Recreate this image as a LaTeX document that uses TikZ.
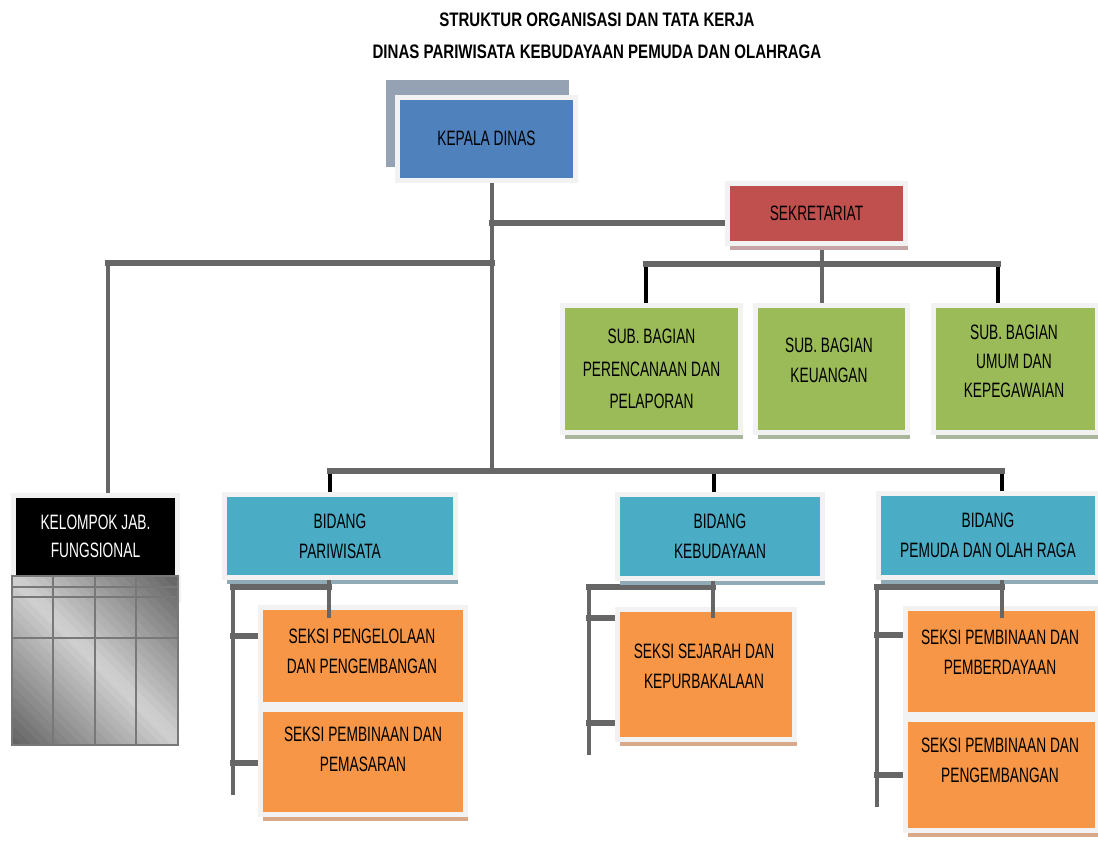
\documentclass[tikz,border=0pt]{standalone}
\usepackage{fontspec}
\setmainfont{Liberation Sans}[FakeStretch=0.66]
\newfontfamily\titlefont{Liberation Sans}[FakeStretch=0.77]
\usetikzlibrary{shadows}

\definecolor{kepalablue}{HTML}{4F81BD}
\definecolor{kepalaback}{HTML}{95A2B4}
\definecolor{framegray}{HTML}{F2F2F2}
\definecolor{sekred}{HTML}{C0504D}
\definecolor{sekshadow}{HTML}{C6A3A4}
\definecolor{subgreen}{HTML}{9BBB59}
\definecolor{greenshadow}{HTML}{AAB69C}
\definecolor{bidangblue}{HTML}{4BACC6}
\definecolor{bidangshadow}{HTML}{90AAB6}
\definecolor{seksiorange}{HTML}{F79646}
\definecolor{orangeshadow}{HTML}{D8A98A}
\definecolor{linegray}{HTML}{666666}

\pgfdeclarelayer{background}
\pgfsetlayers{background,main}

\begin{document}
\begin{tikzpicture}[
    x = 0.025cm,
    y = -0.025cm,
    font = \fontsize{14.8}{21.3}\selectfont,
    box/.style = {
      draw = framegray,
      line width = 0.125cm,
      inner sep = 0pt,
      align = center
    },
    boxsize/.style 2 args = {
      minimum width = #1*0.025cm,
      minimum height = #2*0.025cm
    },
    shadowed/.style = {
      drop shadow = {shadow xshift = 0.06cm, shadow yshift = -0.15cm,
                     fill = #1, opacity = 1}
    },
    txt/.style = {align = center, inner sep = 0pt},
    link/.style = {draw = linegray, line width = 0.15cm, line cap = rect},
    riser/.style = {draw = linegray, line width = 0.1cm, line cap = rect},
    stem/.style = {draw = black, line width = 0.1cm},
    cell/.style = {draw = black!53, line width = 0.07cm}
  ]
  \useasboundingbox (0,0) rectangle (1098,843);

  % title
  \node[font = \titlefont\bfseries\fontsize{13.9}{16}\selectfont] (title1)
    at (597,20) {STRUKTUR ORGANISASI DAN TATA KERJA};
  \node[font = \titlefont\bfseries\fontsize{13.9}{16}\selectfont] (title2)
    at (597,52) {DINAS PARIWISATA KEBUDAYAAN PEMUDA DAN OLAHRAGA};

  % head and secretariat
  \node[fill = kepalaback, inner sep = 0pt, boxsize = {183}{87}] (kepalastack)
    at (477.5,123.5) {};
  \node[box, fill = kepalablue, boxsize = {178}{83}] (kepala)
    at (486.5,138.5) {KEPALA DINAS};
  \node[box, fill = sekred, boxsize = {178}{60}, shadowed = sekshadow] (sek)
    at (816.5,213.5) {SEKRETARIAT};

  % sub bagian
  \node[box, fill = subgreen, boxsize = {178}{127}, shadowed = greenshadow,
        font = \fontsize{14.8}{23.1}\selectfont] (perencanaan)
    at (651.5,369) {SUB. BAGIAN\\PERENCANAAN DAN\\PELAPORAN};
  \node[box, fill = subgreen, boxsize = {152}{127}, shadowed = greenshadow]
    (keuangan) at (831.5,369) {};
  \node[txt] (keuangantext) at (829,360.5) {SUB. BAGIAN\\KEUANGAN};
  \node[box, fill = subgreen, boxsize = {164}{127}, shadowed = greenshadow]
    (umum) at (1015.5,369) {};
  \node[txt, font = \fontsize{14.8}{20.6}\selectfont] (umumtext)
    at (1014,361) {SUB. BAGIAN\\UMUM DAN\\KEPEGAWAIAN};

  % kelompok jabatan fungsional
  \node[box, fill = black, text = white, boxsize = {164}{82},
        font = \fontsize{14.8}{19.9}\selectfont] (kelompok)
    at (95.5,536.5) {KELOMPOK JAB.\\FUNGSIONAL};
  \fill[framegray] (176,576) rectangle (181,603);
  \begin{scope}
    \clip (12,576) rectangle (178,745);
    % metal look: light along one diagonal, darker towards two corners
    \foreach \i in {0,...,34} {
      \pgfmathsetmacro\ya{733-10*\i}
      \pgfmathsetmacro\yb{\ya-11}
      \pgfmathsetmacro\tone{18+44*abs((\ya-5-565)/168)}
      \fill[black!\tone] (0,\ya) -- (300,300+\ya) -- (300,300+\yb) -- (0,\yb) -- cycle;
    }
  \end{scope}
  \foreach \cx in {53,95,136}
    \draw[cell] (\cx,576) -- (\cx,745);
  \foreach \cy in {587,597,638}
    \draw[cell] (12,\cy) -- (178,\cy);
  \draw[cell] (12,576) rectangle (178,745);

  % bidang
  \node[box, fill = bidangblue, boxsize = {231}{83}, shadowed = bidangshadow]
    (pariwisata) at (340,536) {BIDANG\\PARIWISATA};
  \node[box, fill = bidangblue, boxsize = {205}{84}, shadowed = bidangshadow]
    (kebudayaan) at (720,536.5) {BIDANG\\KEBUDAYAAN};
  \node[box, fill = bidangblue, boxsize = {219}{84}, shadowed = bidangshadow]
    (pemuda) at (988,535.5) {BIDANG\\PEMUDA DAN OLAH RAGA};

  % seksi
  \node[box, fill = seksiorange, boxsize = {205}{97}, shadowed = orangeshadow]
    (pengelolaan) at (363,656) {};
  \node[txt] (pengelolaantext) at (362,651) {SEKSI PENGELOLAAN\\DAN PENGEMBANGAN};
  \node[box, fill = seksiorange, boxsize = {205}{105}, shadowed = orangeshadow]
    (pemasaran) at (363,762) {};
  \node[txt] (pemasarantext) at (363,749) {SEKSI PEMBINAAN DAN\\PEMASARAN};
  \node[box, fill = seksiorange, boxsize = {177}{130}, shadowed = orangeshadow]
    (sejarah) at (706,674.5) {};
  \node[txt] (sejarahtext) at (704,666) {SEKSI SEJARAH DAN\\KEPURBAKALAAN};
  \node[box, fill = seksiorange, boxsize = {192}{106}, shadowed = orangeshadow]
    (pemberdayaan) at (1001.5,661.5) {};
  \node[txt] (pemberdayaantext) at (1000,652) {SEKSI PEMBINAAN DAN\\PEMBERDAYAAN};
  \node[box, fill = seksiorange, boxsize = {192}{111}, shadowed = orangeshadow]
    (pengembangan) at (1001.5,775) {};
  \node[txt] (pengembangantext) at (1000,760) {SEKSI PEMBINAAN DAN\\PENGEMBANGAN};

  % junctions
  \coordinate (trunk) at (492,471);
  \coordinate (sekjoin) at (492,223);
  \coordinate (kelbend) at (108,263);
  \coordinate (subbus) at (822,264);
  \coordinate (subleft) at (646,264);
  \coordinate (subright) at (998,264);
  \coordinate (busleft) at (330,471);
  \coordinate (busmid) at (714,471);
  \coordinate (busright) at (1002,471);
  \coordinate (parcorner) at (233,587);
  \coordinate (parstem) at (329,618);
  \coordinate (parend) at (233,793);
  \coordinate (partickone) at (233,636);
  \coordinate (paricktwo) at (233,763);
  \coordinate (kebcorner) at (589,587);
  \coordinate (kebstem) at (713,618);
  \coordinate (kebend) at (589,753);
  \coordinate (kebtickone) at (589,618);
  \coordinate (kebticktwo) at (589,723);
  \coordinate (pemcorner) at (877,587);
  \coordinate (pemstem) at (1002,618);
  \coordinate (pemend) at (877,805);
  \coordinate (pemtickone) at (877,635);
  \coordinate (pemticktwo) at (877,775);

  \begin{pgfonlayer}{background}
    \fill[white] (0,0) rectangle (1098,843);
    \draw[stem] (subleft) -- (subleft |- perencanaan.north);
    \draw[stem] (subright) -- (subright |- umum.north);
    \draw[stem] (busleft) -- (busleft |- pariwisata.north);
    \draw[stem] (busmid) -- (busmid |- kebudayaan.north);
    \draw[stem] (busright) -- (busright |- pemuda.north);
    \draw[riser] (kepala.south -| trunk) -- (trunk);
    \draw[link] (sekjoin) -- (sekjoin -| sek.west);
    \draw[link] (kelbend -| trunk) -- (kelbend);
    \draw[riser] (kelbend) -- (kelbend |- kelompok.north);
    \draw[riser] (sek.south -| subbus) -- (subbus);
    \draw[riser] (subbus) -- (subbus |- keuangan.north);
    \draw[link] (subleft) -- (subright);
    \draw[link] (busleft) -- (busright);
    % brackets below bidang
    \draw[riser] (parcorner) -- (parend);
    \draw[link] (parcorner) -- (parcorner -| parstem);
    \draw[link] (partickone) -- (partickone -| pengelolaan.west);
    \draw[link] (paricktwo) -- (paricktwo -| pemasaran.west);
    \draw[riser] (kebcorner) -- (kebend);
    \draw[link] (kebcorner) -- (kebcorner -| kebstem);
    \draw[link] (kebtickone) -- (kebtickone -| sejarah.west);
    \draw[link] (kebticktwo) -- (kebticktwo -| sejarah.west);
    \draw[riser] (pemcorner) -- (pemend);
    \draw[link] (pemcorner) -- (pemcorner -| pemstem);
    \draw[link] (pemtickone) -- (pemtickone -| pemberdayaan.west);
    \draw[link] (pemticktwo) -- (pemticktwo -| pengembangan.west);
  \end{pgfonlayer}

  % stems running into the first seksi
  \draw[riser, line cap = butt] (parstem |- pariwisata.south) -- (parstem);
  \draw[riser, line cap = butt] (kebstem |- kebudayaan.south) -- (kebstem);
  \draw[riser, line cap = butt] (pemstem |- pemuda.south) -- (pemstem);
\end{tikzpicture}
\end{document}
